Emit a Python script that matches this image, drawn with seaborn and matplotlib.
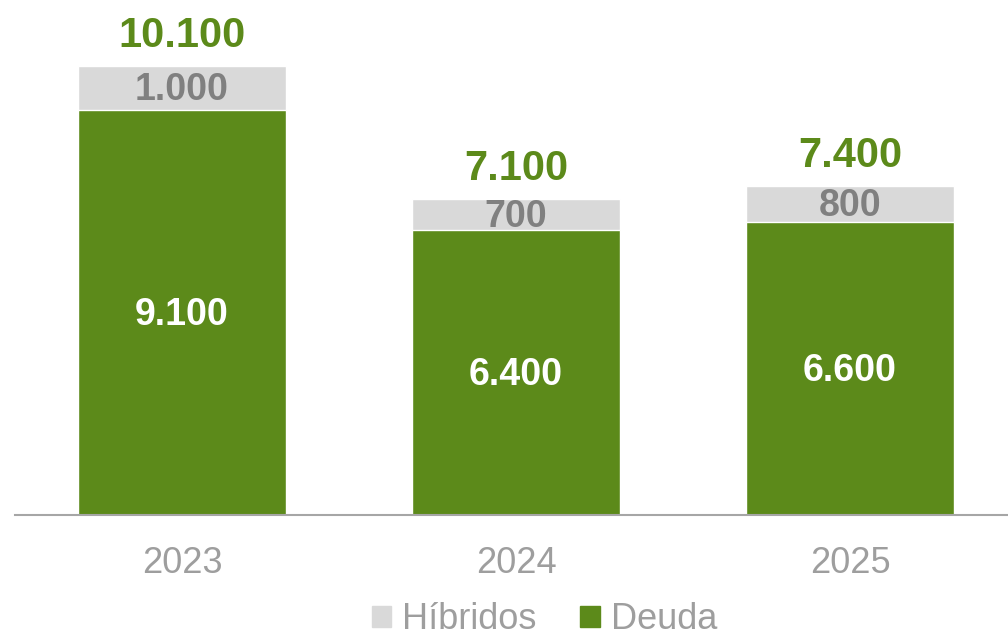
import matplotlib
matplotlib.use('Agg')
import matplotlib.pyplot as plt
import matplotlib.patches as mpatches
import seaborn as sns
import pandas as pd

years = ['2023', '2024', '2025']
deuda = [9100, 6400, 6600]
hibridos = [1000, 700, 800]
totales = [d + h for d, h in zip(deuda, hibridos)]

green = '#5C8A1A'
grey_bar = '#D9D9D9'
grey_txt = '#808080'
tick_col = '#9E9E9E'

sns.set_style('white')
plt.rcParams['font.family'] = ['Liberation Sans', 'DejaVu Sans']

df = pd.DataFrame({'year': years, 'deuda': deuda, 'hibridos': hibridos, 'total': totales})

fig = plt.figure(figsize=(10.08, 6.39), dpi=100)
ax = fig.add_axes([15 / 1008, 124 / 639, 993 / 1008, 515 / 639])

sns.barplot(data=df, x='year', y='total', color=grey_bar, width=0.623, saturation=1, ax=ax)
sns.barplot(data=df, x='year', y='deuda', color=green, width=0.623, saturation=1, ax=ax)


def fmt(v):
    return f'{v:,}'.replace(',', '.')


for i, (d, h, t) in enumerate(zip(deuda, hibridos, totales)):
    ax.text(i, d / 2 - 60, fmt(d), ha='center', va='center', color='white', fontsize=27, fontweight='bold')
    ax.text(i, d + h / 2 - 40, fmt(h), ha='center', va='center', color=grey_txt, fontsize=27, fontweight='bold')
    ax.text(i, t + 680, fmt(t), ha='center', va='center', color=green, fontsize=30, fontweight='bold')

ax.set_xlim(-0.5, 2.473)
ax.set_ylim(0, 11584)
ax.set_xlabel('')
ax.set_ylabel('')
ax.set_yticks([])
for s in ['top', 'right', 'left']:
    ax.spines[s].set_visible(False)
ax.spines['bottom'].set_color('#A6A6A6')
ax.spines['bottom'].set_linewidth(1.5)
ax.tick_params(axis='x', length=0, pad=22, labelsize=26, labelcolor=tick_col)

handles = [mpatches.Patch(color=grey_bar, label='Híbridos'),
           mpatches.Patch(color=green, label='Deuda')]
fig.legend(handles=handles, loc='center', bbox_to_anchor=(0.54, 0.03), ncol=2,
           frameon=False, fontsize=26, labelcolor=tick_col,
           handlelength=0.55, handleheight=0.55, handletextpad=0.3, columnspacing=1.2)

fig.savefig('out.png', dpi=100)
